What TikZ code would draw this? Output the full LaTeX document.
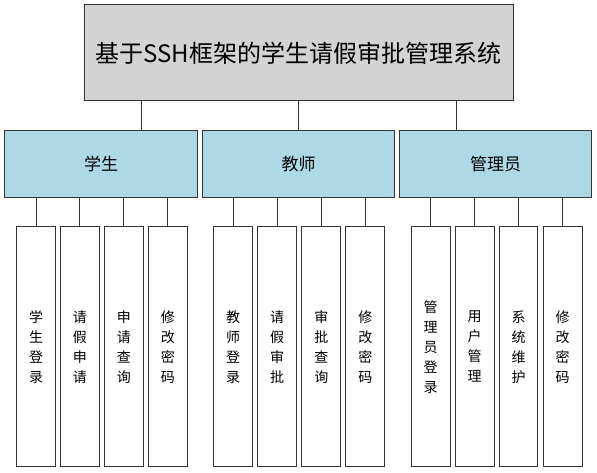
\documentclass[tikz,border=0pt]{standalone}
\usepackage{fontspec}
\setmainfont{Noto Sans CJK SC}
\definecolor{rolefill}{RGB}{173,216,230}
\definecolor{titlefill}{RGB}{211,211,211}
\begin{document}
\begin{tikzpicture}[x=1pt,y=-1pt,
  box/.style={draw=black!80,line width=1pt,rectangle,inner sep=0pt,align=center},
  titlebox/.style={box,fill=titlefill,minimum width=429pt,minimum height=96pt,font=\fontsize{24}{30}\selectfont},
  rolebox/.style={box,fill=rolefill,minimum width=192.5pt,minimum height=67.5pt,font=\fontsize{17}{20}\selectfont},
  leafbox/.style={box,fill=white,minimum width=38.7pt,minimum height=240.3pt,font=\fontsize{14}{20}\selectfont},
  conn/.style={draw=black!80,line width=1pt}]
\useasboundingbox (0,0) rectangle (597,473);
\node[titlebox] (title) at (298.5,53) {基于SSH框架的学生请假审批管理系统};
\node[rolebox] (stu) at (101,164) {学生};
\node[rolebox] (tea) at (298.5,164) {教师};
\node[rolebox] (adm) at (495.7,164) {管理员};
\coordinate (c1) at (141,0);
\coordinate (c2) at (298,0);
\coordinate (c3) at (456,0);
\draw[conn] (title.south -| c1) -- (stu.north -| c1);
\draw[conn] (title.south -| c2) -- (tea.north -| c2);
\draw[conn] (title.south -| c3) -- (adm.north -| c3);
\node[leafbox] (s1) at (36,346.8) {学\\生\\登\\录};
\node[leafbox] (s2) at (79.8,346.8) {请\\假\\申\\请};
\node[leafbox] (s3) at (123.8,346.8) {申\\请\\查\\询};
\node[leafbox] (s4) at (167.8,346.8) {修\\改\\密\\码};
\node[leafbox] (t1) at (233,346.8) {教\\师\\登\\录};
\node[leafbox] (t2) at (277,346.8) {请\\假\\审\\批};
\node[leafbox] (t3) at (321.3,346.8) {审\\批\\查\\询};
\node[leafbox] (t4) at (365.3,346.8) {修\\改\\密\\码};
\node[leafbox] (a1) at (430.7,346.8) {管\\理\\员\\登\\录};
\node[leafbox] (a2) at (474.7,346.8) {用\\户\\管\\理};
\node[leafbox] (a3) at (518.5,346.8) {系\\统\\维\\护};
\node[leafbox] (a4) at (562.7,346.8) {修\\改\\密\\码};
\foreach \l in {s1,s2,s3,s4} \draw[conn] (\l.north |- stu.south) -- (\l.north);
\foreach \l in {t1,t2,t3,t4} \draw[conn] (\l.north |- tea.south) -- (\l.north);
\foreach \l in {a1,a2,a3,a4} \draw[conn] (\l.north |- adm.south) -- (\l.north);
\end{tikzpicture}
\end{document}
